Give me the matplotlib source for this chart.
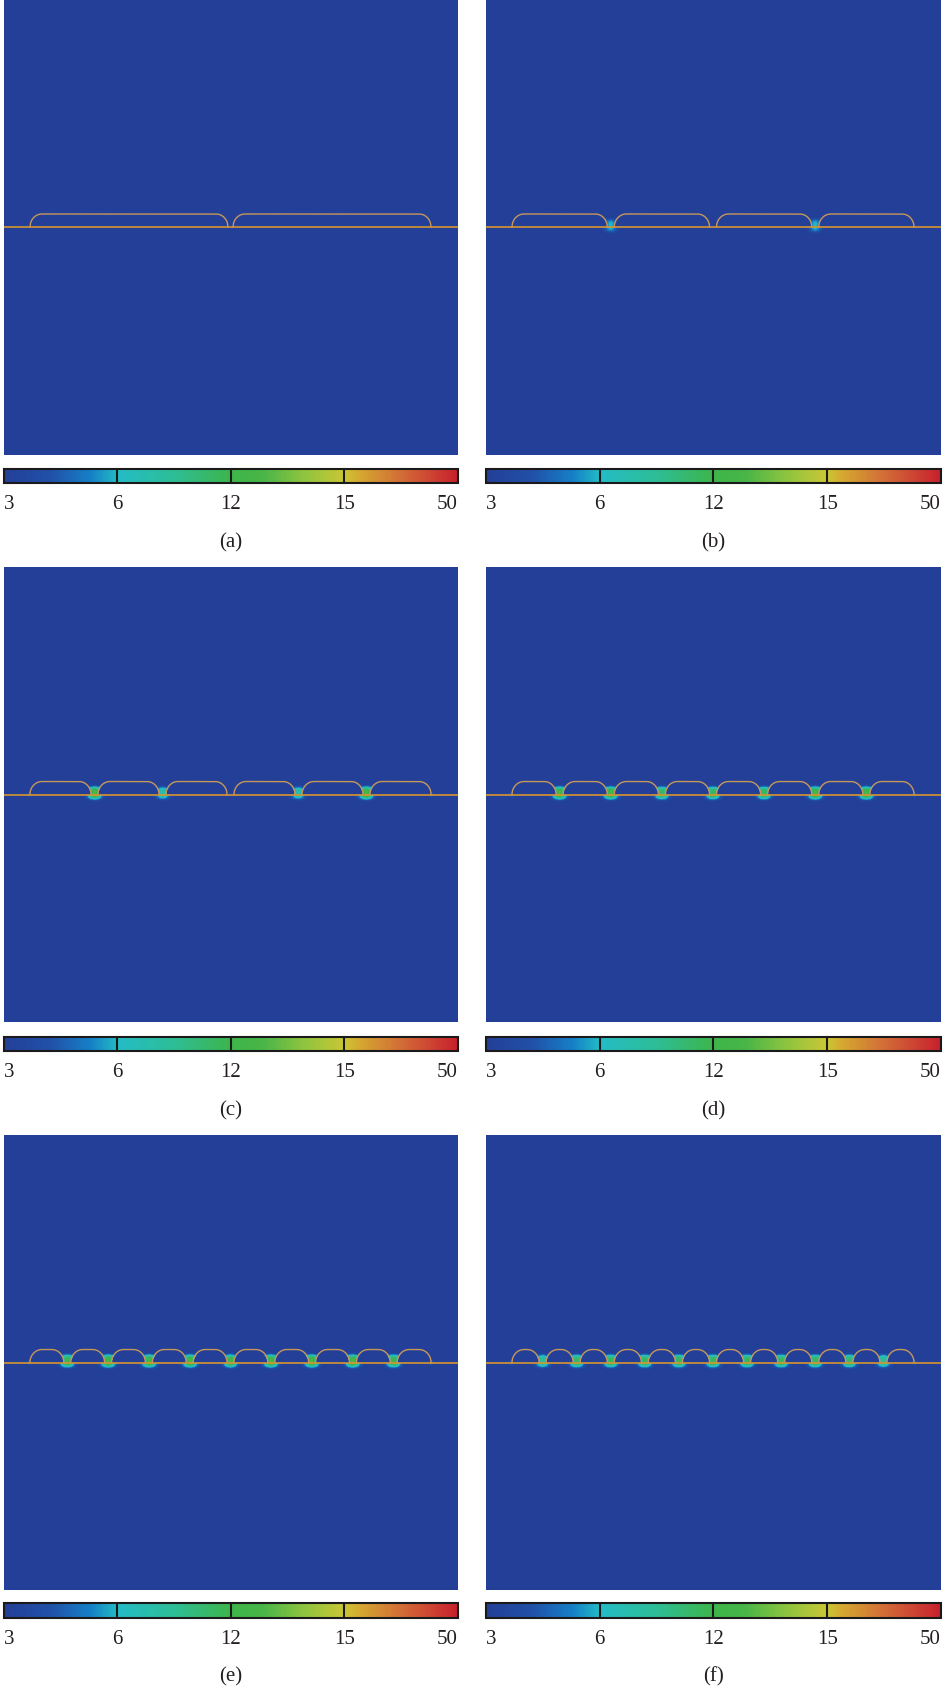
import numpy as np
import matplotlib
matplotlib.use("Agg")
import matplotlib.pyplot as plt
from matplotlib.colors import LinearSegmentedColormap, FuncNorm

# ---- data ----
panel_labels = ["(a)", "(b)", "(c)", "(d)", "(e)", "(f)"]
n_arches = [2, 4, 6, 8, 10, 12]
# peak field value in each gap between neighbouring arches
gap_peaks = [
    [3],
    [6, 3, 6],
    [13, 8, 3, 8, 13],
    [13, 13, 11.5, 11.5, 11.5, 13, 13],
    [12, 13, 13, 13, 13, 13, 13, 13, 12],
    [9, 11, 11.5, 11.5, 11.5, 11.5, 11.5, 11.5, 11.5, 11, 9],
]
# small spots at the two outer ends of the arch row
end_peaks = [3, 3, 5, 5.5, 5.5, 5]
cbar_ticks = [3, 6, 12, 15, 50]

# ---- colour scale ----
cmap = LinearSegmentedColormap.from_list("field", [
    (0.00, "#233f97"), (0.10, "#2150a8"), (0.19, "#1580c6"),
    (0.25, "#24bcc6"), (0.37, "#2dbd98"), (0.50, "#3db54a"),
    (0.57, "#48b548"), (0.66, "#8dc43f"), (0.75, "#c9c734"),
    (0.78, "#d5ab30"), (0.88, "#d26a37"), (1.00, "#c8202d"),
])
tick_pos = np.linspace(0, 1, len(cbar_ticks))
norm = FuncNorm((lambda v: np.interp(v, cbar_ticks, tick_pos),
                 lambda p: np.interp(p, tick_pos, cbar_ticks)),
                vmin=cbar_ticks[0], vmax=cbar_ticks[-1])

# ---- panel geometry in pixels ----
PW, PH = 455, 456
BASE = 228
ARCH_H = 13
X0, X1 = 26, 428

W, H = 945, 1690
fig = plt.figure(figsize=(W / 100, H / 100), dpi=100)

col_x = [(4, 454), (486, 455)]
row_y = [(0, 456, 470, 484, 543), (568, 1023, 1038, 1052, 1111),
         (1136, 1591, 1604, 1619, 1677)]


def fig_rect(x, y_top, w, h):
    return [x / W, 1 - (y_top + h) / H, w / W, h / H]


def arch_top(x, xa, xb, r=12):
    rr = min(r, (xb - xa) / 2)
    y = np.full_like(x, float(ARCH_H))
    left = x < xa + rr
    right = x > xb - rr
    y[left] = ARCH_H * np.sqrt(np.clip(1 - ((xa + rr - x[left]) / rr) ** 2, 0, 1))
    y[right] = ARCH_H * np.sqrt(np.clip(1 - ((x[right] - (xb - rr)) / rr) ** 2, 0, 1))
    return y


gx = np.arange(PW) + 0.5
gy = np.arange(PH) + 0.5
GX, GY = np.meshgrid(gx, gy)

for i in range(6):
    r, c = divmod(i, 2)
    px, pw = col_x[c]
    top, bot, cb_top, cb_bot, lab_y = row_y[r]
    ax = fig.add_axes(fig_rect(px, top, pw, bot - top))

    n = n_arches[i]
    gap = 5 if n == 2 else 7
    aw = (X1 - X0 - (n - 1) * gap) / n
    starts = [X0 + k * (aw + gap) for k in range(n)]

    field = np.full(GX.shape, 3.0)
    for k, p in enumerate(gap_peaks[i]):
        xc = starts[k] + aw + gap / 2
        field += (p - 3) * np.exp(-((GX - xc) / 6.0) ** 2
                                  - ((GY - (BASE + 1.5)) / 6.5) ** 4)
    for xc in (X0, X1):
        field += (end_peaks[i] - 3) * np.exp(-((GX - xc) / 2.5) ** 2 - ((GY - BASE) / 2.5) ** 2)
    # nothing inside the arches
    for xa in starts:
        xb = xa + aw
        inside = (GX > xa) & (GX < xb) & (GY > BASE)
        prof = arch_top(GX[inside], xa, xb)
        sub = field[inside]
        sub[GY[inside] - BASE < prof - 1] = 3.0
        field[inside] = sub

    im = ax.imshow(field, cmap=cmap, norm=norm, origin="lower",
                   extent=(0, PW, 0, PH), aspect="auto",
                   interpolation="nearest", interpolation_stage="rgba")
    ax.axhline(BASE, color="#d8952f", lw=1.2)
    for xa in starts:
        xs = np.linspace(xa, xa + aw, 300)
        ax.plot(xs, BASE + arch_top(xs, xa, xa + aw), color="#c7975a", lw=1.0)
    ax.set_xlim(0, PW)
    ax.set_ylim(0, PH)
    ax.axis("off")

    cax = fig.add_axes(fig_rect(px, cb_top, pw, cb_bot - cb_top))
    cb = fig.colorbar(im, cax=cax, orientation="horizontal", ticks=cbar_ticks)
    cb.outline.set_linewidth(1.5)
    cb.outline.set_edgecolor("#1a1a1a")
    for t in cbar_ticks[1:-1]:
        cax.axvline(t, color="#1a1a1a", lw=1.5)
    cax.tick_params(length=0, pad=8, labelsize=15, labelcolor="#231f20")
    cax.set_xticklabels([str(t) for t in cbar_ticks], family="Liberation Serif")
    labs = cax.get_xticklabels()
    labs[0].set_ha("left")
    labs[-1].set_ha("right")

    fig.text((px + pw / 2) / W, 1 - lab_y / H, panel_labels[i], ha="center",
             va="center", fontsize=15, family="Liberation Serif", color="#231f20")

fig.savefig("out.png", dpi=100)
